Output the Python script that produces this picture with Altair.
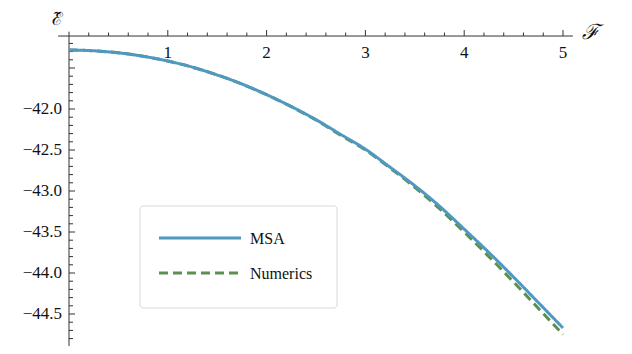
import altair as alt
import pandas as pd

# ---- data ----
x_vals = [0, 0.25, 0.5, 0.75, 1.0, 1.25, 1.5, 1.75, 2.0, 2.25, 2.5,
          2.75, 3.0, 3.25, 3.5, 3.75, 4.0, 4.25, 4.5, 4.75, 5.0]
msa = [-41.28, -41.29, -41.315, -41.357, -41.415, -41.49, -41.585, -41.695,
       -41.825, -41.97, -42.13, -42.31, -42.49, -42.71, -42.935, -43.185,
       -43.465, -43.75, -44.05, -44.36, -44.67]
numerics = [-41.28, -41.29, -41.315, -41.357, -41.415, -41.49, -41.585, -41.695,
            -41.826, -41.972, -42.135, -42.32, -42.5, -42.72, -42.955, -43.215,
            -43.5, -43.8, -44.11, -44.43, -44.75]
series_names = ["MSA", "Numerics"]
series_colors = ["#4e98c2", "#5a9150"]
series_dash = [[1, 0], [9, 5]]

x_tick_values = [1, 2, 3, 4, 5]
x_tick_labels = ["1", "2", "3", "4", "5"]
x_minor_values = [0.2, 0.4, 0.6, 0.8, 1.2, 1.4, 1.6, 1.8, 2.2, 2.4, 2.6, 2.8,
                  3.2, 3.4, 3.6, 3.8, 4.2, 4.4, 4.6, 4.8]
y_tick_values = [-42.0, -42.5, -43.0, -43.5, -44.0, -44.5]
y_tick_labels = ["\u221242.0", "\u221242.5", "\u221243.0", "\u221243.5", "\u221244.0", "\u221244.5"]
y_major_unlabeled = [-41.5]
y_minor_values = [-41.2, -41.3, -41.4, -41.6, -41.7, -41.8, -41.9,
                  -42.1, -42.2, -42.3, -42.4, -42.6, -42.7, -42.8, -42.9,
                  -43.1, -43.2, -43.3, -43.4, -43.6, -43.7, -43.8, -43.9,
                  -44.1, -44.2, -44.3, -44.4, -44.6, -44.7, -44.8, -44.9]
x_axis_label = "\u2131"
y_axis_label = "\u2130\u0303"

# ---- layout ----
W, H = 616, 338
PX_X = 98.8   # pixels per x unit
PX_Y = 82.0   # pixels per y unit
X0_PX = 61    # view pixel of x = 0
Y42_PX = 101  # view pixel of y = -42
xdom = [-X0_PX / PX_X, (W - X0_PX) / PX_X]
ydom = [-42 - (H - Y42_PX) / PX_Y, -42 + Y42_PX / PX_Y]
xs = alt.Scale(domain=xdom, nice=False, zero=False)
ys = alt.Scale(domain=ydom, nice=False, zero=False)

AXIS_Y = -41.11          # where the horizontal axis crosses
AXIS_COLOR = "#333333"
FONT = "Liberation Serif, Times New Roman, serif"

color_scale = alt.Scale(domain=series_names, range=series_colors)
dash_scale = alt.Scale(domain=series_names, range=series_dash)


def series_layer(name, values):
    df = pd.DataFrame({"x": x_vals, "y": values, "series": name})
    return alt.Chart(df).mark_line(strokeWidth=3, strokeCap="butt", interpolate="monotone").encode(
        x=alt.X("x:Q", scale=xs, axis=None),
        y=alt.Y("y:Q", scale=ys, axis=None),
        color=alt.Color("series:N", scale=color_scale, legend=None),
        strokeDash=alt.StrokeDash("series:N", scale=dash_scale, legend=None),
    )


# axis lines
xaxis_df = pd.DataFrame({"x": [-0.11], "x2": [5.10], "y": [AXIS_Y]})
xaxis = alt.Chart(xaxis_df).mark_rule(color=AXIS_COLOR, strokeWidth=1).encode(
    x=alt.X("x:Q", scale=xs, axis=None), x2="x2:Q", y=alt.Y("y:Q", scale=ys, axis=None))
yaxis_df = pd.DataFrame({"x": [0.0], "y": [-41.057], "y2": [ydom[0]]})
yaxis = alt.Chart(yaxis_df).mark_rule(color=AXIS_COLOR, strokeWidth=1).encode(
    x=alt.X("x:Q", scale=xs, axis=None), y=alt.Y("y:Q", scale=ys, axis=None), y2="y2:Q")

# x ticks (pointing up)
xt = pd.DataFrame({"x": x_tick_values + x_minor_values,
                   "len": [6] * len(x_tick_values) + [3.5] * len(x_minor_values)})
xt["y"] = AXIS_Y
xt["y2"] = AXIS_Y + xt["len"] / PX_Y
xticks = alt.Chart(xt).mark_rule(color=AXIS_COLOR, strokeWidth=1).encode(
    x=alt.X("x:Q", scale=xs, axis=None), y=alt.Y("y:Q", scale=ys, axis=None), y2="y2:Q")

# y ticks (pointing right)
ymaj = y_tick_values + y_major_unlabeled
yt = pd.DataFrame({"y": ymaj + y_minor_values,
                   "len": [6] * len(ymaj) + [4] * len(y_minor_values)})
yt = yt[yt["y"] >= ydom[0]].copy()
yt["x"] = 0.0
yt["x2"] = yt["len"] / PX_X
yticks = alt.Chart(yt).mark_rule(color=AXIS_COLOR, strokeWidth=1).encode(
    x=alt.X("x:Q", scale=xs, axis=None), x2="x2:Q", y=alt.Y("y:Q", scale=ys, axis=None))

# tick labels
xl = pd.DataFrame({"x": x_tick_values, "label": x_tick_labels, "y": -41.317})
xlabels = alt.Chart(xl).mark_text(font=FONT, fontSize=17, align="center", baseline="middle",
                                  color="#111").encode(
    x=alt.X("x:Q", scale=xs, axis=None), y=alt.Y("y:Q", scale=ys, axis=None), text="label:N")
yl = pd.DataFrame({"y": y_tick_values, "label": y_tick_labels, "x": -0.0709})
ylabels = alt.Chart(yl).mark_text(font=FONT, fontSize=17, align="right", baseline="middle",
                                  color="#111").encode(
    x=alt.X("x:Q", scale=xs, axis=None), y=alt.Y("y:Q", scale=ys, axis=None), text="label:N")

# axis titles
xtitle = alt.Chart(pd.DataFrame({"x": [5.283], "y": [-41.073], "label": [x_axis_label]})).mark_text(
    font="DejaVu Serif", fontSize=21, fontStyle="italic", align="center", baseline="middle",
    color="#111").encode(
    x=alt.X("x:Q", scale=xs, axis=None), y=alt.Y("y:Q", scale=ys, axis=None), text="label:N")
ytitle = alt.Chart(pd.DataFrame({"x": [-0.121], "y": [-40.976], "label": [y_axis_label]})).mark_text(
    font="DejaVu Serif", fontSize=18, align="center", baseline="alphabetic",
    color="#111").encode(
    x=alt.X("x:Q", scale=xs, axis=None), y=alt.Y("y:Q", scale=ys, axis=None), text="label:N")

# legend box (view pixels)
LEG_X, LEG_Y, LEG_W, LEG_H = 132, 198, 197, 102
legend_box = alt.Chart(pd.DataFrame({"a": [0]})).mark_rect(
    fill="white", stroke="#d9d9d9", strokeWidth=1, cornerRadius=3).encode(
    x=alt.value(LEG_X), x2=alt.value(LEG_X + LEG_W),
    y=alt.value(LEG_Y), y2=alt.value(LEG_Y + LEG_H))

legend_layers = []
for i, name in enumerate(series_names):
    ly = LEG_Y + 32 + 35 * i
    ldf = pd.DataFrame({"series": [name]})
    legend_layers.append(alt.Chart(ldf).mark_rule(strokeWidth=3, strokeCap="butt").encode(
        x=alt.value(LEG_X + 19), x2=alt.value(LEG_X + 101), y=alt.value(ly),
        color=alt.Color("series:N", scale=color_scale, legend=None),
        strokeDash=alt.StrokeDash("series:N", scale=dash_scale, legend=None)))
    legend_layers.append(alt.Chart(ldf).mark_text(font=FONT, fontSize=16, align="left",
                                                  baseline="middle", color="#111").encode(
        x=alt.value(LEG_X + 110), y=alt.value(ly + 1), text="series:N"))

chart = alt.layer(
    xaxis, yaxis, xticks, yticks, xlabels, ylabels, xtitle, ytitle,
    series_layer("Numerics", numerics), series_layer("MSA", msa),
    legend_box, *legend_layers,
).properties(
    width=W, height=H, padding=0,
    autosize=alt.AutoSizeParams(type="none"),
).configure_view(stroke=None)

chart.save("out.html", embed_options={"renderer": "svg", "actions": False})
